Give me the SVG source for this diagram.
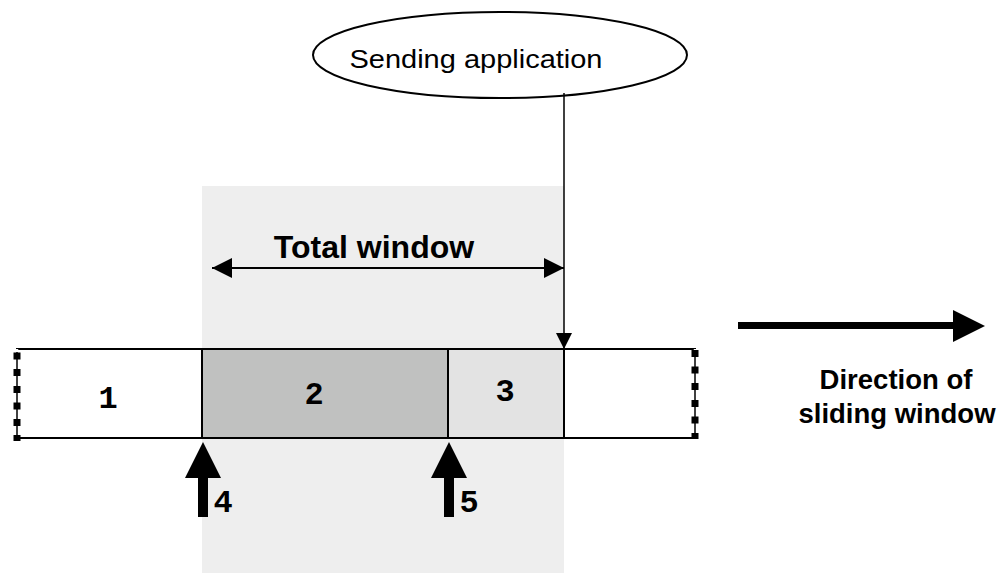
<svg xmlns="http://www.w3.org/2000/svg" width="1003" height="573" viewBox="0 0 1003 573">
<style>
.box{stroke:#000;stroke-width:2}
.num{font-family:"Liberation Mono","Courier New",monospace;font-weight:bold;font-size:32px;text-anchor:middle}
.lbl{font-family:"Liberation Sans",Arial,sans-serif;font-weight:bold;text-anchor:middle}
.ln{stroke:#000;fill:none}
.sq{fill:#000}
</style>
<defs>
<marker id="ahb" markerWidth="20" markerHeight="20" refX="20" refY="10" orient="auto-start-reverse" markerUnits="userSpaceOnUse" viewBox="0 0 20 20"><path d="M0,0 L20,10 L0,20 Z" fill="#000"/></marker>
<marker id="ahv" markerWidth="16" markerHeight="16" refX="16" refY="8" orient="auto" markerUnits="userSpaceOnUse" viewBox="0 0 16 16"><path d="M0,0 L16,8 L0,16 Z" fill="#000"/></marker>
</defs>
<rect id="window-bg" x="202" y="186" width="362" height="387" fill="#eeeeee"/>
<g id="node-sender">
<ellipse cx="500" cy="55" rx="187" ry="43" fill="#fff" stroke="#000" stroke-width="2"/>
<text x="476" y="68" font-family="Liberation Sans,Arial,sans-serif" font-size="26" text-anchor="middle" textLength="253" lengthAdjust="spacingAndGlyphs">Sending application</text>
</g>
<g id="node-seg1"><rect class="box" x="17" y="349" width="185" height="89" fill="#fff"/><text class="num" x="108" y="408">1</text></g>
<g id="node-seg2"><rect class="box" x="202" y="349" width="246" height="89" fill="#c0c1c0"/><text class="num" x="314" y="404">2</text></g>
<g id="node-seg3"><rect class="box" x="448" y="349" width="116" height="89" fill="#e3e3e3"/><text class="num" x="505" y="401">3</text></g>
<g id="node-seg4"><rect class="box" x="564" y="349" width="131" height="89" fill="#fff"/></g>
<g id="dashed-ends">
<line x1="17" y1="349" x2="17" y2="438" stroke="#fff" stroke-width="2.5"/>
<line x1="17" y1="352" x2="17" y2="438" stroke="#000" stroke-width="1.5"/>
<rect class="sq" x="13.5" y="352.5" width="7" height="7"/>
<rect class="sq" x="13.5" y="369" width="7" height="7"/>
<rect class="sq" x="13.5" y="386" width="7" height="7"/>
<rect class="sq" x="13.5" y="402.5" width="7" height="7"/>
<rect class="sq" x="13.5" y="419" width="7" height="7"/>
<rect class="sq" x="13.5" y="435" width="7" height="6"/>
<line x1="695" y1="349" x2="695" y2="438" stroke="#fff" stroke-width="2.5"/>
<line x1="695" y1="350" x2="695" y2="438" stroke="#000" stroke-width="1.5"/>
<rect class="sq" x="691.5" y="350" width="7" height="7"/>
<rect class="sq" x="691.5" y="366.5" width="7" height="7"/>
<rect class="sq" x="691.5" y="383" width="7" height="7"/>
<rect class="sq" x="691.5" y="400" width="7" height="7"/>
<rect class="sq" x="691.5" y="416.5" width="7" height="7"/>
<rect class="sq" x="691.5" y="433" width="7" height="6"/>
</g>
<g id="connectors">
<line class="ln" x1="564" y1="93" x2="564" y2="349" stroke-width="1.5" marker-end="url(#ahv)"/>
<line class="ln" x1="212" y1="268" x2="564" y2="268" stroke-width="2" marker-start="url(#ahb)" marker-end="url(#ahb)"/>
<path d="M738,325.5 H958" class="ln" stroke-width="7"/>
<path d="M953,310 L985,326 L953,342 Z" fill="#000"/>
<path d="M198,517 V478 H185 L203,442 L221,478 H208 V517 Z" fill="#000"/>
<path d="M444,517 V478 H431 L449,442 L467,478 H454 V517 Z" fill="#000"/>
</g>
<g id="labels">
<text class="lbl" x="374" y="258" font-size="32">Total window</text>
<text class="lbl" x="896" y="389" font-size="27.5">Direction of</text>
<text class="lbl" x="897" y="423" font-size="27.5">sliding window</text>
<text class="num" x="223" y="512">4</text>
<text class="num" x="469" y="512">5</text>
</g>
</svg>
